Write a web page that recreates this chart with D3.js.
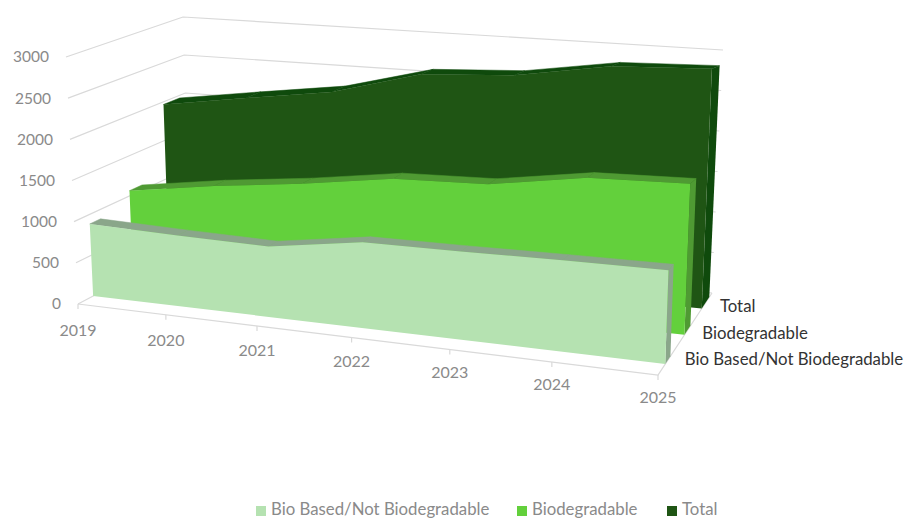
<!DOCTYPE html>
<html>
<head>
<meta charset="utf-8">
<script src="https://cdn.jsdelivr.net/npm/d3@7"></script>
<style>
  html, body { margin: 0; padding: 0; background: #fff; }
  text { font-family: Lato, "Open Sans", sans-serif; }
</style>
</head>
<body>
<div id="chart"></div>
<script>
// 3D area chart

const years = ['2019', '2020', '2021', '2022', '2023', '2024', '2025'];
const seriesNames = ['Bio Based/Not Biodegradable', 'Biodegradable', 'Total'];
const bioBased = [885, 843, 810, 955, 949, 950, 945];
const biodegradable = [1065, 1210, 1320, 1463, 1480, 1633, 1647];
const total = [1965, 2119, 2267, 2554, 2610, 2786, 2821];
const valueTicks = [0, 500, 1000, 1500, 2000, 2500, 3000];

const faceColors = ['#b5e2b1', '#63d03c', '#1f5514'];
const topColors = ['#8aa68a', '#4f9a33', '#0f4a0c'];
// depth slice of each series on the floor, 0 front .. 1 back
const depthFront = [0.135, 0.49, 0.81];
const depthBack = [0.23, 0.6, 0.95];

const WIDTH = 905;
const HEIGHT = 520;

// corners of the plot box on screen
const floorCorners = { fl: [78, 304], fr: [658, 375], bl: [190, 245], br: [712, 293] };
const ceilCorners = { fl: [66, 57], fr: [668, 69], bl: [183, 17], br: [723, 50] };

const xScale = d3.scalePoint().domain(years).range([0, 1]);
const yScale = d3.scaleLinear().domain([0, 3000]).range([0, 1]);
const labelDepth = d3.scalePoint().domain(seriesNames).range([0.2, 0.85]);
const yearGap = d3.scalePoint().domain(years).range([26, 22]);

// front edge ticks get wider to the right, camera is nearer there
function warp(u) {
  return u / (u + 1.12 * (1 - u));
}

function project(year, depth, value) {
  const u = warp(xScale(year));
  const w = yScale(value);
  const corner = (c, i) =>
    (c.fl[i] * (1 - u) + c.fr[i] * u) * (1 - depth) +
    (c.bl[i] * (1 - u) + c.br[i] * u) * depth;
  return [0, 1].map(i => corner(floorCorners, i) * (1 - w) + corner(ceilCorners, i) * w);
}

const line = d3.line();
const closed = pts => line(pts) + 'Z';

const svg = d3.select('#chart').append('svg')
  .attr('width', WIDTH)
  .attr('height', HEIGHT)
  .style('display', 'block');

const gridColor = '#d9d9d9';
const first = years[0];
const last = years[years.length - 1];

// walls
const walls = svg.append('g')
  .attr('fill', 'none')
  .attr('stroke', gridColor)
  .attr('stroke-width', 1.2);

walls.selectAll('path.grid')
  .data(valueTicks)
  .enter()
  .append('path')
  .attr('class', 'grid')
  .attr('d', v => line([project(first, 0, v), project(first, 1, v), project(last, 1, v)]));

// floor
walls.append('path')
  .attr('d', line([project(first, 0, 0), project(last, 0, 0), project(last, 1, 0)]));

walls.selectAll('path.tick')
  .data(years)
  .enter()
  .append('path')
  .attr('class', 'tick')
  .attr('d', y => {
    const p = project(y, 0, 0);
    return line([p, [p[0], p[1] + 5]]);
  });

// areas, back to front
const seriesData = [bioBased, biodegradable, total];

[2, 1, 0].forEach(s => {
  const values = seriesData[s];
  const front = depthFront[s];
  const back = depthBack[s];
  const g = svg.append('g').attr('class', 'series');

  g.append('path')
    .attr('fill', topColors[s])
    .attr('d', closed([
      project(last, front, 0),
      project(last, back, 0),
      project(last, back, values[6]),
      project(last, front, values[6])
    ]));

  g.selectAll('path.top')
    .data(d3.pairs(years.map((y, i) => [y, values[i]])))
    .enter()
    .append('path')
    .attr('class', 'top')
    .attr('fill', topColors[s])
    .attr('stroke', topColors[s])
    .attr('stroke-width', 0.5)
    .attr('d', ([a, b]) => closed([
      project(a[0], front, a[1]),
      project(a[0], back, a[1]),
      project(b[0], back, b[1]),
      project(b[0], front, b[1])
    ]));

  g.append('path')
    .attr('fill', faceColors[s])
    .attr('d', closed([
      ...years.map((y, i) => project(y, front, values[i])),
      project(last, front, 0),
      project(first, front, 0)
    ]));
});

// value labels
svg.selectAll('text.value')
  .data(valueTicks)
  .enter()
  .append('text')
  .attr('class', 'value')
  .attr('x', v => project(first, 0, v)[0] - 17)
  .attr('y', v => project(first, 0, v)[1])
  .attr('dy', '0.35em')
  .attr('text-anchor', 'end')
  .attr('font-size', 15.5)
  .attr('fill', '#8a8a8a')
  .text(d => d);

// year labels
svg.selectAll('text.year')
  .data(years)
  .enter()
  .append('text')
  .attr('class', 'year')
  .attr('x', y => project(y, 0, 0)[0])
  .attr('y', y => project(y, 0, 0)[1] + yearGap(y))
  .attr('dy', '0.35em')
  .attr('text-anchor', 'middle')
  .attr('font-size', 16)
  .attr('fill', '#8a8a8a')
  .text(d => d);

// series labels beside the floor
svg.selectAll('text.depth')
  .data(seriesNames)
  .enter()
  .append('text')
  .attr('class', 'depth')
  .attr('x', d => project(last, labelDepth(d), 0)[0] + 16)
  .attr('y', d => project(last, labelDepth(d), 0)[1] + 1)
  .attr('dy', '0.35em')
  .attr('font-size', 16.8)
  .attr('fill', '#333')
  .text(d => d);

// legend, pulled up a little so descenders stay inside the page
const legendX = [256, 517, 667];
const legend = svg.selectAll('g.legend')
  .data(seriesNames)
  .enter()
  .append('g')
  .attr('class', 'legend')
  .attr('transform', (d, i) => `translate(${legendX[i]},504)`);

legend.append('rect')
  .attr('y', 2)
  .attr('width', 10)
  .attr('height', 10)
  .attr('fill', (d, i) => faceColors[i]);

legend.append('text')
  .attr('x', 15)
  .attr('y', 5)
  .attr('dy', '0.35em')
  .attr('font-size', 16.8)
  .attr('fill', '#8a8a8a')
  .text(d => d);
</script>
</body>
</html>
